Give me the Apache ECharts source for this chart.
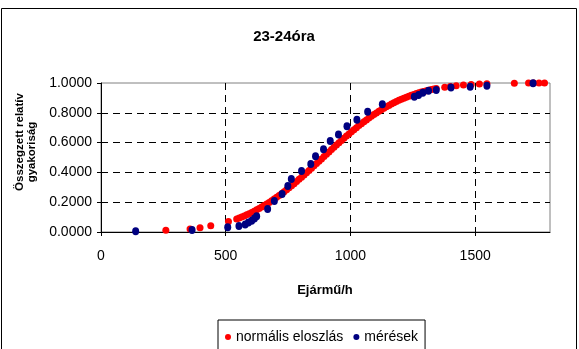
<!DOCTYPE html>
<html>
<head>
<meta charset="utf-8">
<script src="https://cdn.jsdelivr.net/npm/echarts@6/dist/echarts.min.js"></script>
<style>
  html, body { margin: 0; padding: 0; background: #fff; }
  #chart { width: 579px; height: 349px; }
</style>
</head>
<body>
<div id="chart"></div>
<script>
// Cumulative relative frequency of vehicle flow, 23-24 h
const chartTitle = '23-24óra';
const xAxisName = 'Ejármű/h';
const yAxisNameLines = ['Összegzett relatív', 'gyakoriság'];
const seriesNames = ['normális eloszlás', 'mérések'];

const xTicks = [0, 500, 1000, 1500];
const yTicks = ['0.0000', '0.2000', '0.4000', '0.6000', '0.8000', '1.0000'];

// fitted normal distribution (red points)
const normalX = [
  260, 357, 397, 440, 511,
  544, 554, 564, 574, 584, 594, 604, 614, 624, 634, 644, 654, 664, 674, 684,
  694, 704, 714, 724, 734, 744, 754, 764, 774, 784, 794, 804, 814, 824, 834,
  844, 854, 864, 874, 884, 894, 904, 914, 924, 934, 944, 954, 964, 974, 984,
  994, 1004, 1014, 1024, 1034, 1044, 1054, 1064, 1074, 1084, 1094, 1104, 1114,
  1124, 1134, 1144, 1154, 1164, 1174, 1184, 1194, 1204, 1214, 1224, 1234, 1244,
  1254, 1264, 1274, 1284, 1294, 1304, 1314, 1324, 1334, 1344,
  1378, 1400, 1424, 1453, 1484, 1517, 1547, 1657, 1714, 1734, 1756, 1778
];
const normalY = [
  0.012, 0.020, 0.028, 0.042, 0.070,
  0.0874, 0.0938, 0.1006, 0.1077, 0.1151, 0.1229, 0.1310, 0.1396, 0.1485, 0.1577,
  0.1673, 0.1774, 0.1878, 0.1985, 0.2096, 0.2210, 0.2330, 0.2451, 0.2575, 0.2703,
  0.2834, 0.2970, 0.3107, 0.3246, 0.3387, 0.3535, 0.3681, 0.3828, 0.3978, 0.4129,
  0.4286, 0.4439, 0.4594, 0.4749, 0.4906, 0.5064, 0.5219, 0.5374, 0.5529, 0.5687,
  0.5839, 0.5991, 0.6141, 0.6289, 0.6439, 0.6584, 0.6726, 0.6865, 0.7002, 0.7140,
  0.7271, 0.7399, 0.7524, 0.7648, 0.7767, 0.7881, 0.7993, 0.8100, 0.8207, 0.8307,
  0.8404, 0.8497, 0.8588, 0.8673, 0.8755, 0.8834, 0.8908, 0.8981, 0.9049, 0.9113,
  0.9174, 0.9232, 0.9288, 0.9340, 0.9388, 0.9434, 0.9478, 0.9518, 0.9556, 0.9592,
  0.9625,
  0.972, 0.977, 0.982, 0.986, 0.990, 0.993, 0.995, 0.999, 0.9994, 0.9996, 0.9997, 0.9998
];

// measurements (blue points)
const measuredX = [
  139, 365, 508, 553, 578, 591, 604, 615, 624, 668, 695, 726, 749, 763, 804,
  841, 860, 892, 919, 952, 986, 1026, 1069, 1128, 1256, 1273, 1290, 1313, 1344,
  1403, 1480, 1547, 1732
];
const measuredY = [
  0.005, 0.013, 0.032, 0.040, 0.050, 0.063, 0.075, 0.090, 0.105, 0.154, 0.208,
  0.255, 0.309, 0.356, 0.410, 0.456, 0.508, 0.555, 0.610, 0.655, 0.710, 0.754,
  0.807, 0.858, 0.908, 0.919, 0.935, 0.948, 0.953, 0.970, 0.975, 0.982, 0.998
];

const FONT = '"Liberation Sans", Arial, Helvetica, sans-serif';

const pairs = (xs, ys) => xs.map((x, i) => [x, ys[i]]);

const chart = echarts.init(document.getElementById('chart'), null, { renderer: 'canvas' });

chart.setOption({
  backgroundColor: '#ffffff',
  animation: false,
  grid: {
    left: 101, top: 83, right: 29, bottom: 117,
    show: true, borderColor: '#808080', borderWidth: 1, backgroundColor: 'transparent'
  },
  xAxis: {
    type: 'value',
    min: xTicks[0], max: 1800, interval: xTicks[1] - xTicks[0],
    axisLine: { show: true, onZero: false, lineStyle: { color: '#000', width: 1 } },
    axisTick: { show: true, length: 4, lineStyle: { color: '#000' } },
    axisLabel: {
      showMaxLabel: false, margin: 17, color: '#000', fontSize: 14, fontFamily: FONT,
      formatter: v => (xTicks.indexOf(v) >= 0 ? String(v) : '')
    },
    splitLine: { show: true, showMinLine: false, showMaxLine: false,
      lineStyle: { color: '#000', type: [7, 5], width: 1 } }
  },
  yAxis: {
    type: 'value',
    min: 0, max: 1, interval: 0.2,
    axisLine: { show: true, onZero: false, lineStyle: { color: '#000', width: 1 } },
    axisTick: { show: true, length: 4, lineStyle: { color: '#000' } },
    axisLabel: {
      margin: 9, color: '#000', fontSize: 14, fontFamily: FONT,
      formatter: v => yTicks[Math.round(v * 5)]
    },
    splitLine: { show: true, showMinLine: false, showMaxLine: false,
      lineStyle: { color: '#000', type: [7, 5], width: 1 } }
  },
  legend: {
    data: seriesNames,
    left: 218, top: 320,
    padding: [10, 7, 40, 7],
    itemGap: 10, itemWidth: 6, itemHeight: 6,
    icon: 'circle',
    borderColor: '#000', borderWidth: 1,
    textStyle: { fontSize: 14, color: '#000', fontFamily: FONT }
  },
  graphic: [
    { type: 'rect', silent: true, z: -1,
      shape: { x: 1.5, y: 8.5, width: 575, height: 400 },
      style: { fill: null, stroke: '#000', lineWidth: 1 } },
    { type: 'text', silent: true, x: 284, y: 37,
      style: { text: chartTitle, align: 'center', verticalAlign: 'middle',
        font: 'bold 15px ' + FONT, fill: '#000' } },
    { type: 'text', silent: true, x: 325, y: 290,
      style: { text: xAxisName, align: 'center', verticalAlign: 'middle',
        font: 'bold 13px ' + FONT, fill: '#000' } },
    { type: 'text', silent: true, x: 20, y: 142, rotation: Math.PI / 2,
      style: { text: yAxisNameLines[0], align: 'center', verticalAlign: 'middle',
        font: 'bold 11.5px ' + FONT, fill: '#000' } },
    { type: 'text', silent: true, x: 32, y: 152, rotation: Math.PI / 2,
      style: { text: yAxisNameLines[1], align: 'center', verticalAlign: 'middle',
        font: 'bold 11.5px ' + FONT, fill: '#000' } }
  ],
  series: [
    {
      name: seriesNames[0], type: 'scatter',
      data: pairs(normalX, normalY),
      symbol: 'circle', symbolSize: 7,
      itemStyle: { color: '#ff0000', opacity: 1 }, z: 2
    },
    {
      name: seriesNames[1], type: 'scatter',
      data: pairs(measuredX, measuredY),
      symbol: 'circle', symbolSize: [7, 8],
      itemStyle: { color: '#000080', opacity: 1 }, z: 3
    }
  ]
});
</script>
</body>
</html>
